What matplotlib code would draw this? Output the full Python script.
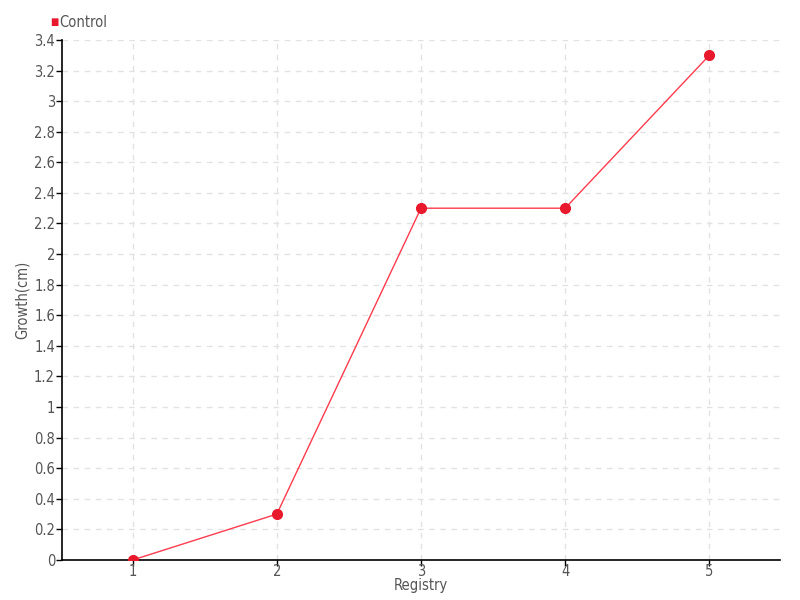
import matplotlib
matplotlib.use("Agg")
import matplotlib.pyplot as plt
import numpy as np

plt.rcParams['font.family'] = ['DejaVu Sans']
plt.rcParams['font.stretch'] = 'condensed'

# data
registry = [1, 2, 3, 4, 5]
growth = [0, 0.3, 2.3, 2.3, 3.3]
yticks = np.round(np.arange(0, 3.41, 0.2), 1)
ytick_labels = ['%g' % v for v in yticks]

fig = plt.figure(figsize=(8, 6), dpi=100)
ax = fig.add_axes([0.0775, 0.0667, 0.8975, 0.8667])

ax.plot(registry, growth, color='#ff3b4e', linewidth=1, marker='o',
        markersize=7, markerfacecolor='#e8192c', markeredgecolor='#e8192c',
        label='Control', zorder=3)

ax.set_xlim(0.51, 5.49)
ax.set_ylim(0, 3.4)
ax.set_xticks(registry)
ax.set_xticklabels([str(r) for r in registry])
ax.set_yticks(yticks)
ax.set_yticklabels(ytick_labels)

ax.grid(True, linestyle=(0, (4, 4)), color='#e2e2e2', linewidth=1)
ax.set_axisbelow(True)
for s in ['top', 'right']:
    ax.spines[s].set_visible(False)
for s in ['left', 'bottom']:
    ax.spines[s].set_linewidth(1.2)
ax.tick_params(length=4, width=1, colors='black', labelcolor='#555555',
               labelsize=10.5, pad=1)
ax.tick_params(axis='x', pad=-1)

ax.set_xlabel('Registry', color='#555555', fontsize=10.5, labelpad=-1)
ax.set_ylabel('Growth(cm)', color='#555555', fontsize=10.5, labelpad=3)

# legend
fig.text(0.0625, 0.9633, '\u25a0', color='#e8192c', fontsize=7,
         va='center', ha='left')
fig.text(0.0735, 0.9633, 'Control', color='#555555', fontsize=10.5,
         va='center', ha='left')

fig.savefig('out.png', dpi=100)
